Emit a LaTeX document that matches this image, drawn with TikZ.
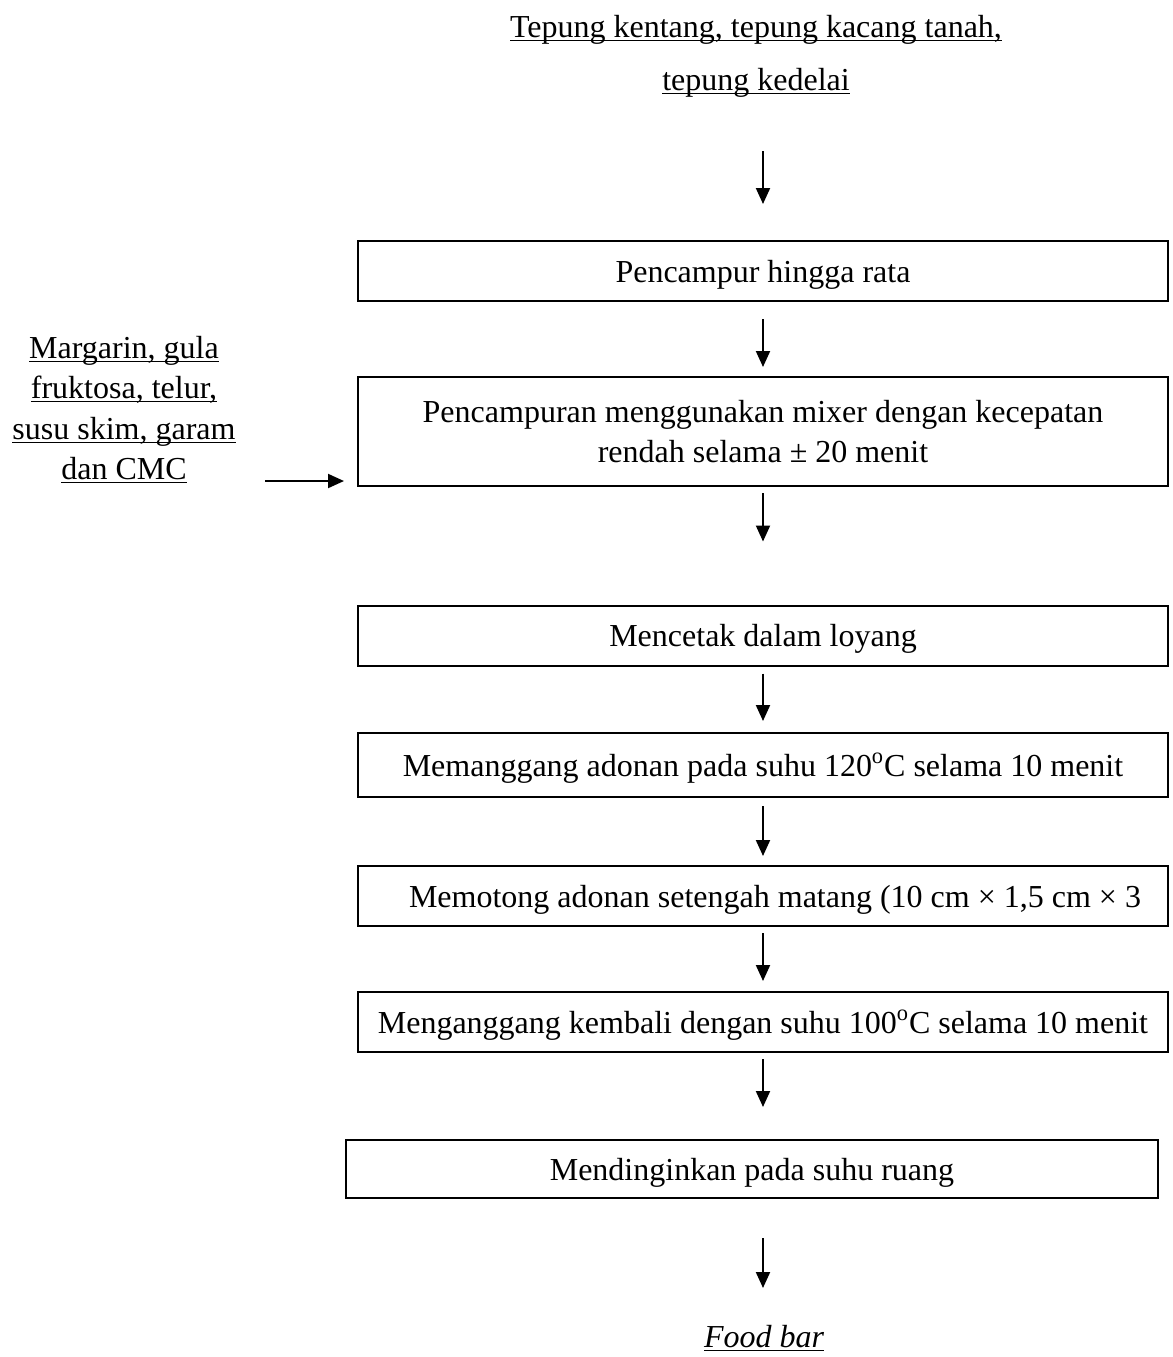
\documentclass[tikz,border=0pt]{standalone}
\usepackage{fontspec}
\setmainfont{Liberation Serif}
\usetikzlibrary{arrows.meta}
\newcommand\myul[1]{\leavevmode\setbox0\hbox{#1}\rlap{\rule[-2.2pt]{\wd0}{0.9pt}}\box0}
\begin{document}
\begin{tikzpicture}[x=0.5pt,y=-0.5pt,
  box/.style={draw, line width=1pt, minimum width=405pt, minimum height=30pt, inner sep=0pt, align=center, font=\fontsize{16}{20}\selectfont},
  onebox/.style={box, text height=14pt, text depth=3pt},
  arr/.style={line width=1pt, -{Triangle[length=8pt,width=7pt]}},
  txt/.style={inner sep=0pt, align=center, font=\fontsize{16}{20}\selectfont}]
\useasboundingbox (0,0) rectangle (1173,1357);
% source texts
\node[txt, anchor=base] (src1) at (756,37) {\myul{Tepung kentang, tepung kacang tanah,}};
\node[txt, anchor=base] (src2) at (756,90) {\myul{tepung kedelai}};
\node[txt, anchor=base] (add1) at (124,358) {\myul{Margarin, gula}};
\node[txt, anchor=base] (add2) at (124,398) {\myul{fruktosa, telur,}};
\node[txt, anchor=base] (add3) at (124,439) {\myul{susu skim, garam}};
\node[txt, anchor=base] (add4) at (124,479) {\myul{dan CMC}};
% process boxes
\node[onebox] (b1) at (763,271) {Pencampur hingga rata};
\node[box, minimum height=54.5pt] (b2) at (763,431.5) {Pencampuran menggunakan mixer dengan kecepatan\\rendah selama ± 20 menit};
\node[onebox] (b3) at (763,635.5) {Mencetak dalam loyang};
\node[onebox, minimum height=32pt] (b4) at (763,765) {Memanggang adonan pada suhu 120\textsuperscript{o}C selama 10 menit};
\node[onebox] (b5) at (763,896) {\hspace*{12pt}Memotong adonan setengah matang (10 cm × 1,5 cm × 3};
\node[onebox] (b6) at (763,1022) {Menganggang kembali dengan suhu 100\textsuperscript{o}C selama 10 menit};
\node[onebox, minimum width=406pt, minimum height=29pt] (b7) at (752,1169) {Mendinginkan pada suhu ruang};
\node[txt, anchor=base] (food) at (764,1347) {\myul{\itshape Food bar}};
% connectors
\draw[arr] ([yshift=44.5pt]b1.north) -- ([yshift=18pt]b1.north);
\draw[arr] ([yshift=-8.5pt]b1.south) -- ([yshift=4.5pt]b2.north);
\draw[arr] ([yshift=-3pt]b2.south) -- ([yshift=31.5pt]b3.north);
\draw[arr] ([yshift=-3.5pt]b3.south) -- ([yshift=5.5pt]b4.north);
\draw[arr] ([yshift=-4pt]b4.south) -- ([yshift=4.5pt]b5.north);
\draw[arr] ([yshift=-3pt]b5.south) -- ([yshift=5pt]b6.north);
\path (b6.south |- b7.north) ++(0,-32) coordinate (a7e);
\draw[arr] ([yshift=-3pt]b6.south) -- (a7e);
\path (b6.south |- b7.south) ++(0,39) coordinate (a8s);
\path (b6.south |- b7.south) ++(0,89) coordinate (a8e);
\draw[arr] (a8s) -- (a8e);
\draw[arr] ([xshift=-46pt,yshift=3pt]b2.south west) -- ([xshift=-6.5pt,yshift=3pt]b2.south west);
\end{tikzpicture}
\end{document}
